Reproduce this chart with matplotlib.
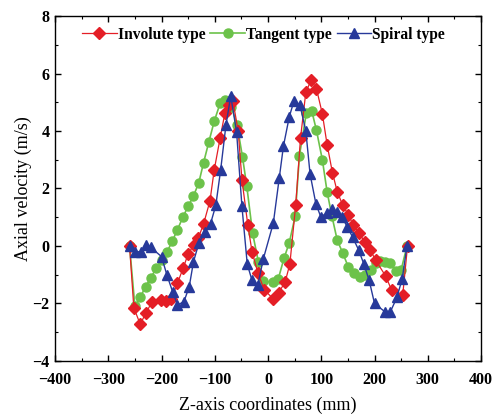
import numpy as np
import matplotlib
matplotlib.use("Agg")
import matplotlib.pyplot as plt
from matplotlib.ticker import MultipleLocator

# Axial velocity along the Z axis for three inlet types
z_involute = [-260, -252, -240, -229, -218, -201, -191, -182, -170, -159, -150, -139, -131,
              -121, -109, -101, -90, -81, -73, -66, -56, -49, -38, -30, -19, -7, 10, 20, 32,
              41, 52, 61, 71, 81, 91, 102, 111, 121, 130, 140, 151, 160, 171, 182, 192, 202,
              221, 232, 253, 262]
v_involute = [0.0, -2.15, -2.72, -2.32, -1.95, -1.88, -1.9, -1.85, -1.29, -0.75, -0.28, 0.05,
              0.27, 0.77, 1.57, 2.65, 3.75, 4.62, 4.92, 5.05, 4.0, 2.31, 0.74, -0.2, -0.94,
              -1.53, -1.84, -1.62, -1.26, -0.63, 1.43, 3.75, 5.35, 5.77, 5.47, 4.6, 3.52, 2.55,
              1.89, 1.43, 1.08, 0.73, 0.45, 0.13, -0.14, -0.49, -1.05, -1.53, -1.7, 0.0]

z_tangent = [-260, -250, -240, -230, -220, -210, -200, -190, -180, -170, -160, -150, -140,
             -130, -121, -111, -101, -90, -80, -69, -58, -48, -40, -29, -18, -10, 9, 19, 30,
             40, 51, 59, 72, 82, 91, 102, 111, 120, 130, 140, 151, 161, 172, 183, 194, 202,
             210, 220, 230, 240, 250, 261]
v_tangent = [0.0, -2.1, -1.78, -1.42, -1.1, -0.78, -0.49, -0.22, 0.16, 0.57, 1.0, 1.38, 1.74,
             2.2, 2.9, 3.63, 4.34, 4.96, 5.08, 4.85, 4.21, 3.1, 2.1, 0.45, -0.56, -1.22, -1.26,
             -1.16, -0.43, 0.12, 1.04, 3.14, 4.63, 4.71, 4.02, 3.0, 1.88, 1.04, 0.2, -0.23,
             -0.74, -0.95, -1.07, -1.0, -0.85, -0.6, -0.52, -0.56, -0.58, -0.86, -0.83, 0.0]

z_spiral = [-260, -250, -238, -230, -220, -200, -190, -179, -170, -158, -148, -140, -130,
            -118, -108, -98, -89, -79, -70, -59, -49, -39, -30, -19, -9, 10, 21, 29, 40, 49,
            60, 71, 79, 90, 99, 111, 121, 130, 138, 149, 159, 170, 180, 190, 200, 219, 230,
            242, 252, 261]
v_spiral = [0.0, -0.2, -0.2, 0.05, -0.05, -0.37, -1.0, -1.6, -2.05, -1.94, -1.42, -0.55, 0.09,
            0.5, 0.77, 1.42, 2.64, 4.21, 5.22, 3.96, 1.38, -0.63, -1.2, -1.35, -0.46, 0.8,
            2.35, 3.48, 4.5, 5.06, 4.9, 4.0, 2.5, 1.46, 1.02, 1.14, 1.28, 1.19, 1.02, 0.67,
            0.3, -0.13, -0.63, -1.2, -2.0, -2.28, -2.28, -1.79, -1.14, 0.0]

serif = ["Liberation Serif", "DejaVu Serif"]
plt.rcParams['font.family'] = serif

fig = plt.figure(figsize=(4.93, 4.18), dpi=100)
ax = fig.add_axes([0.1116, 0.1364, 0.8641, 0.8253])

ax.plot(z_involute, v_involute, color="#e41e26", marker="D", markersize=6, lw=0.9,
        label="Involute type", zorder=3)
ax.plot(z_tangent, v_tangent, color="#6cc24a", marker="o", markersize=6.5, lw=1.2,
        label="Tangent type", zorder=2)
ax.plot(z_spiral, v_spiral, color="#27399a", marker="^", markersize=7.5, lw=1.0,
        label="Spiral type", zorder=4)

ax.set_xlim(-400, 400)
ax.set_ylim(-4, 8)
ax.xaxis.set_major_locator(MultipleLocator(100))
ax.xaxis.set_minor_locator(MultipleLocator(50))
ax.yaxis.set_major_locator(MultipleLocator(2))
ax.yaxis.set_minor_locator(MultipleLocator(1))
ax.tick_params(which="both", direction="in", top=True, right=True)
ax.tick_params(which="major", length=4, width=1, labelsize=11.5)
ax.tick_params(axis="x", which="major", pad=8)
ax.tick_params(axis="y", which="major", pad=4)
ax.tick_params(which="minor", length=2, width=0.8)
for lab in ax.get_xticklabels() + ax.get_yticklabels():
    lab.set_fontweight("bold")
for s in ax.spines.values():
    s.set_linewidth(1.0)

ax.set_xlabel("Z-axis coordinates (mm)", fontsize=13, labelpad=6)
ax.set_ylabel("Axial velocity (m/s)", fontsize=13, labelpad=0)

ax.legend(loc="upper center", bbox_to_anchor=(0.49, 1.01), ncol=3, frameon=False,
          numpoints=1, handlelength=2.2, handletextpad=0.1, columnspacing=0.3,
          prop={"family": serif, "weight": "bold", "size": 11.2})

fig.savefig("out.png", dpi=100)
